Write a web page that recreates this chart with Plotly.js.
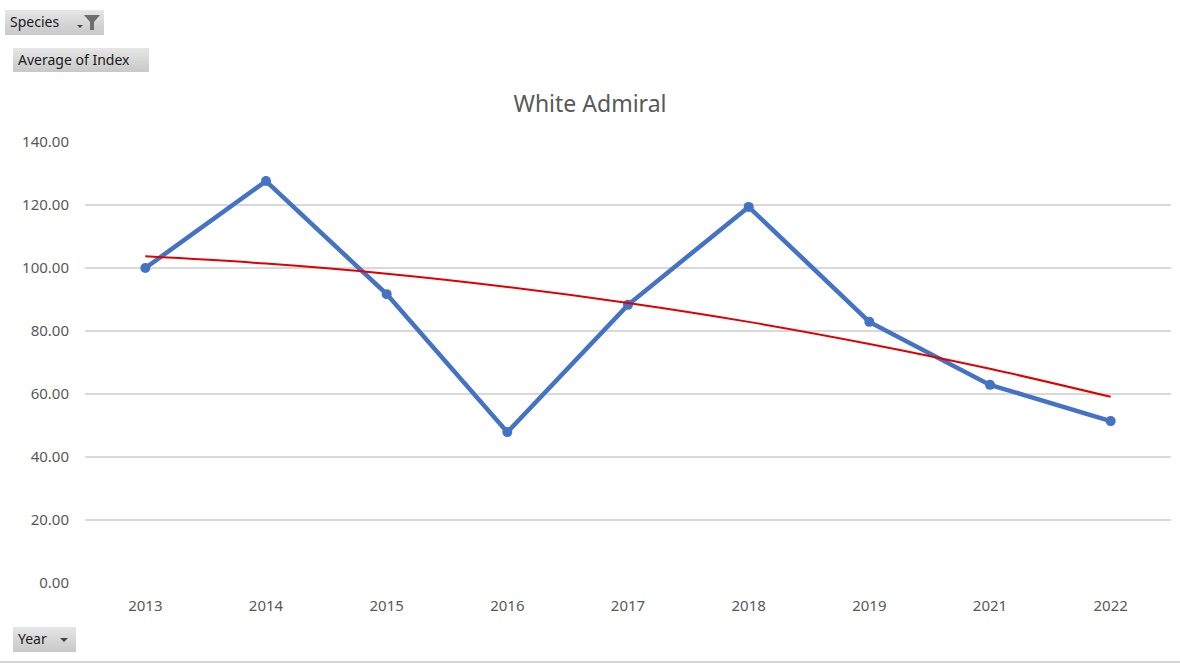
<!DOCTYPE html>
<html>
<head>
<meta charset="utf-8">
<script src="https://cdn.plot.ly/plotly-3.0.1.min.js"></script>
<style>
  html, body { margin:0; padding:0; background:#fff; }
  #wrap { position:relative; width:1180px; height:665px; overflow:hidden; font-family:"Noto Sans", "Open Sans", sans-serif; }
  #chart { position:absolute; left:0; top:0; width:1180px; height:665px; }
  .btn { position:absolute; background:linear-gradient(#e6e6e6, #c8c8c8); color:#1a1a1a; font-size:14px; line-height:24px; box-sizing:border-box; padding-left:5px; z-index:5; }
  .arrow { position:absolute; width:0; height:0; border-left:4px solid transparent; border-right:4px solid transparent; border-top:4px solid #444; }
  #bottomline { position:absolute; left:0; top:661px; width:1180px; height:2px; background:#d4d4d4; }
</style>
</head>
<body>
<div id="wrap">
  <div id="chart"></div>
  <div class="btn" style="left:5px; top:10px; width:99px; height:25px;">Species
    <div class="arrow" style="left:72px; top:15px; border-left-width:3px; border-right-width:3px; border-top-width:3px;"></div>
    <svg style="position:absolute; left:78px; top:4px;" width="18" height="17" viewBox="0 0 18 17"><path d="M1 1 L17 1 L11 8 L11 16 L7 16 L7 8 Z" fill="#6e6e6e"/></svg>
  </div>
  <div class="btn" style="left:13px; top:48px; width:136px; height:24px;">Average of Index</div>
  <div class="btn" style="left:13px; top:627px; width:63px; height:25px;">Year
    <div class="arrow" style="left:47px; top:11px;"></div>
  </div>
  <div id="bottomline"></div>
</div>
<script>
const years = ["2013","2014","2015","2016","2017","2018","2019","2021","2022"];
const indexValues = [100.0, 127.6, 91.7, 47.9, 88.3, 119.4, 82.9, 62.9, 51.4];
const trendValues = [103.7, 101.4, 98.2, 94.0, 88.9, 82.9, 75.9, 68.0, 59.1];
const yTicks = [0, 20, 40, 60, 80, 100, 120, 140];
const yTickLabels = ["0.00","20.00","40.00","60.00","80.00","100.00","120.00","140.00"];

const traces = [
  {
    x: years, y: indexValues, type: 'scatter', mode: 'lines+markers',
    line: { color: '#4472C4', width: 4.5 },
    marker: { color: '#4472C4', size: 10 },
    hoverinfo: 'x+y', showlegend: false
  },
  {
    x: years, y: trendValues, type: 'scatter', mode: 'lines',
    line: { color: '#E00000', width: 2, shape: 'spline', smoothing: 1 },
    hoverinfo: 'skip', showlegend: false
  }
];

const layout = {
  width: 1180, height: 665,
  margin: { l: 85, r: 9, t: 142, b: 82 },
  paper_bgcolor: '#ffffff', plot_bgcolor: '#ffffff',
  font: { family: 'Noto Sans, Open Sans, sans-serif', color: '#595959', size: 15 },
  title: { text: 'White Admiral', font: { size: 23, color: '#595959', family: 'Noto Sans, sans-serif' }, x: 0.5, xanchor: 'center', y: 0.843, yanchor: 'middle' },
  xaxis: {
    type: 'category', range: [-0.5, 8.5], showgrid: false, zeroline: false,
    showline: false, ticks: '', ticklabelstandoff: 12,
    tickfont: { size: 15, color: '#595959' }
  },
  yaxis: {
    range: [0, 140], tickvals: yTicks, ticktext: yTickLabels,
    showgrid: true, gridcolor: '#d9d9d9', gridwidth: 1.3, zeroline: false,
    showline: false, ticks: '', ticklabelstandoff: 15,
    tickfont: { size: 15, color: '#595959' }, fixedrange: true
  }
};

Plotly.newPlot('chart', traces, layout, { displayModeBar: false, staticPlot: true });
</script>
</body>
</html>
